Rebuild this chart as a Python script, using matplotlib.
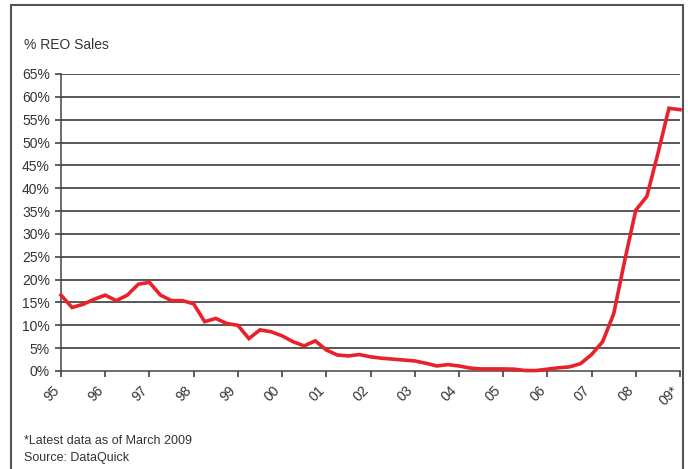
import numpy as np
import matplotlib
matplotlib.use('Agg')
import matplotlib.pyplot as plt
import matplotlib.transforms as mtransforms
from matplotlib.patches import Rectangle

plt.rcParams['font.family'] = ['Liberation Sans', 'DejaVu Sans']

# quarterly share of sales that were REO (%), Q1 1995 .. Q1 2009
reo_share = [16.6, 13.9, 14.6, 15.7,
             16.6, 15.4, 16.6, 19.0,
             19.4, 16.6, 15.4, 15.4,
             14.7, 10.8, 11.5, 10.4,
             10.0, 7.1, 9.0, 8.6,
             7.7, 6.4, 5.5, 6.6,
             4.6, 3.5, 3.3, 3.6,
             3.1, 2.8, 2.6, 2.4,
             2.2, 1.7, 1.1, 1.4,
             1.1, 0.65, 0.45, 0.45,
             0.45, 0.4, 0.1, 0.1,
             0.4, 0.7, 0.9, 1.6,
             3.6, 6.4, 12.5, 24.2,
             35.2, 38.2, 47.6, 57.5,
             57.2]
start_year = 1995
year_labels = ['95', '96', '97', '98', '99', '00', '01', '02',
               '03', '04', '05', '06', '07', '08', '09*']
pct_ticks = list(range(0, 70, 5))

quarters = start_year + np.arange(len(reo_share)) / 4.0
years = start_year + np.arange(len(year_labels))

fig = plt.figure(figsize=(6.88, 4.69), dpi=100)
ax = fig.add_axes([61 / 688, 1 - 371 / 469, 619 / 688, 297 / 469])

for p in pct_ticks[1:]:
    ax.axhline(p, color='#2a2a2a', lw=1.1, zorder=1)

ax.plot(quarters, reo_share, color='#e8212b', lw=2.6, solid_joinstyle='miter', zorder=3, clip_on=False)

ax.set_xlim(years[0], years[-1])
ax.set_ylim(0, 65)
ax.set_yticks(pct_ticks)
ax.set_yticklabels([f'{p}%' for p in pct_ticks], fontsize=10, color='#333333')
ax.set_xticks(years)
ax.set_xticklabels(year_labels, rotation=45, ha='right', va='top',
                   rotation_mode='anchor', fontsize=10, color='#333333')
ax.tick_params(axis='y', length=4, width=1.1, color='#333333', pad=4)
ax.tick_params(axis='x', length=4, width=1.1, color='#333333', pad=5)

# nudge the slanted year labels left so they sit under their ticks
shift = mtransforms.ScaledTranslation(-9 / 100, 0, fig.dpi_scale_trans)
for lbl in ax.get_xticklabels():
    lbl.set_transform(lbl.get_transform() + shift)

for side in ['top', 'right']:
    ax.spines[side].set_visible(False)
for side in ['left', 'bottom']:
    ax.spines[side].set_color('#444444')
    ax.spines[side].set_linewidth(1.1)

fig.text(24 / 688, 1 - 45 / 469, '% REO Sales', fontsize=10, va='center', color='#333333')
fig.text(24 / 688, 1 - 441 / 469, '*Latest data as of March 2009', fontsize=9, va='center', color='#333333')
fig.text(24 / 688, 1 - 458 / 469, 'Source: DataQuick', fontsize=9, va='center', color='#333333')

# outer box of the exhibit
fig.add_artist(Rectangle((11 / 688, -0.05), 672 / 688, 1.05 - 5 / 469,
                         transform=fig.transFigure, fill=False,
                         edgecolor='#555555', lw=1.5))

fig.savefig('out.png', dpi=100)
